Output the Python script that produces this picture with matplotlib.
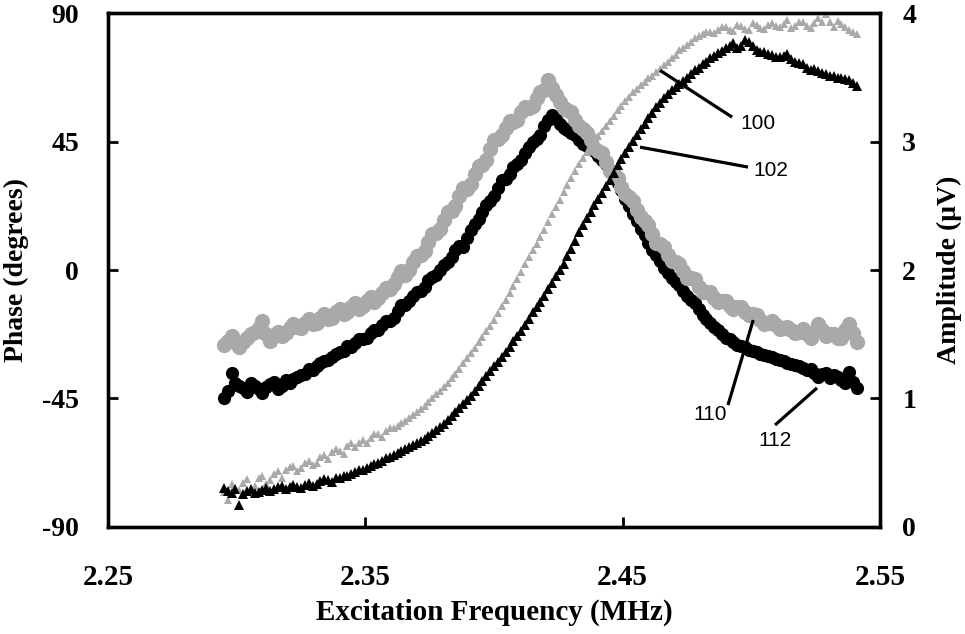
import matplotlib.pyplot as plt
import numpy as np

plt.rcParams['font.family'] = 'Liberation Serif'

# frequency sweep (MHz)
freq = np.linspace(2.295, 2.541, 165)

# amplitude (uV), right axis
amp_black = [1.00, 1.06, 1.20, 1.12, 1.10, 1.08, 1.05, 1.12, 1.10, 1.07, 1.04, 1.09, 1.11, 1.13, 1.07, 1.10, 1.14, 1.12, 1.15, 1.17,
             1.18, 1.19, 1.23, 1.22, 1.25, 1.28, 1.29, 1.30, 1.32, 1.35, 1.36, 1.37, 1.41, 1.40, 1.43, 1.46, 1.46, 1.47, 1.51, 1.53,
             1.53, 1.57, 1.60, 1.60, 1.63, 1.68, 1.73, 1.73, 1.76, 1.80, 1.83, 1.84, 1.87, 1.92, 1.95, 1.96, 2.00, 2.04, 2.06, 2.10,
             2.16, 2.19, 2.18, 2.25, 2.31, 2.36, 2.40, 2.45, 2.51, 2.54, 2.58, 2.64, 2.70, 2.71, 2.75, 2.80, 2.83, 2.86, 2.91, 2.96,
             3.00, 3.02, 3.05, 3.12, 3.17, 3.21, 3.18, 3.14, 3.11, 3.09, 3.07, 3.05, 3.01, 2.98, 2.97, 2.96, 2.93, 2.89, 2.86, 2.83,
             2.78, 2.73, 2.68, 2.62, 2.55, 2.50, 2.44, 2.38, 2.32, 2.27, 2.21, 2.16, 2.12, 2.07, 2.02, 1.98, 1.94, 1.91, 1.88, 1.84,
             1.80, 1.77, 1.74, 1.70, 1.65, 1.62, 1.59, 1.56, 1.53, 1.50, 1.47, 1.46, 1.44, 1.42, 1.41, 1.40, 1.38, 1.37, 1.36, 1.35,
             1.34, 1.33, 1.32, 1.31, 1.30, 1.29, 1.28, 1.27, 1.26, 1.25, 1.24, 1.22, 1.23, 1.20, 1.17, 1.19, 1.20, 1.16, 1.18, 1.17,
             1.14, 1.12, 1.21, 1.13, 1.08]
amp_gray = [1.42, 1.45, 1.49, 1.44, 1.40, 1.44, 1.47, 1.50, 1.52, 1.55, 1.60, 1.50, 1.45, 1.49, 1.52, 1.49, 1.51, 1.55, 1.58, 1.56,
            1.55, 1.59, 1.62, 1.58, 1.59, 1.63, 1.66, 1.62, 1.63, 1.67, 1.70, 1.66, 1.67, 1.71, 1.74, 1.70, 1.72, 1.76, 1.79, 1.75,
            1.78, 1.82, 1.86, 1.85, 1.89, 1.95, 1.99, 1.96, 2.00, 2.06, 2.11, 2.12, 2.15, 2.22, 2.28, 2.29, 2.32, 2.39, 2.45, 2.46,
            2.50, 2.58, 2.64, 2.63, 2.67, 2.75, 2.81, 2.82, 2.86, 2.94, 3.01, 3.02, 3.05, 3.11, 3.16, 3.15, 3.17, 3.23, 3.27, 3.26,
            3.28, 3.34, 3.39, 3.40, 3.48, 3.42, 3.36, 3.31, 3.26, 3.25, 3.23, 3.17, 3.12, 3.10, 3.07, 3.01, 2.95, 2.93, 2.91, 2.84,
            2.77, 2.75, 2.72, 2.65, 2.59, 2.57, 2.54, 2.47, 2.41, 2.38, 2.35, 2.28, 2.21, 2.20, 2.18, 2.12, 2.07, 2.06, 2.05, 1.99,
            1.94, 1.94, 1.93, 1.87, 1.83, 1.83, 1.83, 1.78, 1.75, 1.76, 1.76, 1.72, 1.70, 1.71, 1.71, 1.67, 1.65, 1.66, 1.65, 1.61,
            1.58, 1.59, 1.60, 1.57, 1.54, 1.55, 1.56, 1.53, 1.51, 1.52, 1.54, 1.50, 1.47, 1.52, 1.58, 1.53, 1.49, 1.50, 1.50, 1.47,
            1.47, 1.53, 1.58, 1.51, 1.44]

# phase (degrees), left axis
ph_black = [-76.3, -77.6, -78.1, -76.9, -82.3, -78.6, -77.4, -76.8, -78.1, -77.8, -77.0, -76.4, -77.4, -76.9, -76.0, -75.6, -76.7, -75.9, -75.3, -76.0,
            -76.3, -75.2, -74.6, -75.6, -74.9, -73.9, -73.2, -73.5, -74.2, -73.0, -72.8, -72.3, -72.1, -71.6, -70.7, -70.2, -70.0, -69.5, -68.6, -68.0,
            -67.6, -66.9, -65.8, -65.4, -64.8, -64.0, -63.4, -62.8, -62.0, -61.3, -60.6, -59.9, -59.2, -58.2, -57.1, -56.1, -55.0, -53.8, -52.5, -51.1,
            -49.7, -48.3, -46.9, -45.6, -44.1, -42.3, -40.6, -38.9, -37.1, -35.3, -33.6, -32.1, -30.5, -28.8, -27.0, -25.0, -23.1, -21.2, -19.3, -17.0,
            -14.7, -13.0, -11.2, -9.0, -6.7, -4.4, -2.1, 0.0, 2.1, 4.8, 7.4, 10.3, 13.3, 15.8, 18.2, 20.5, 22.8, 24.9, 27.0, 29.3,
            31.5, 34.2, 36.8, 38.9, 41.0, 43.1, 45.2, 47.3, 49.4, 51.3, 53.2, 55.2, 57.1, 58.6, 60.2, 61.6, 63.0, 64.0, 65.1, 66.2,
            67.2, 68.6, 70.0, 71.0, 72.1, 73.1, 74.2, 75.1, 76.0, 76.9, 77.7, 78.6, 79.5, 78.0, 78.4, 80.5, 79.8, 78.4, 77.0, 76.6,
            76.3, 75.8, 75.3, 74.8, 74.6, 75.0, 75.6, 73.9, 72.8, 72.5, 72.1, 71.0, 70.0, 70.6, 69.7, 69.2, 68.6, 68.2, 67.9, 67.5,
            67.2, 66.9, 66.5, 65.6, 64.4]
ph_gray = [-77.7, -80.5, -74.9, -76.3, -77.0, -74.6, -73.2, -76.6, -75.6, -73.0, -72.1, -75.0, -73.5, -71.6, -70.4, -72.8, -70.0, -68.9, -68.6, -70.4,
           -69.3, -67.5, -66.9, -68.4, -67.6, -65.6, -64.8, -66.2, -63.7, -62.6, -63.4, -64.5, -61.6, -60.6, -62.0, -60.7, -59.5, -60.6, -58.8, -57.6,
           -57.4, -58.4, -56.4, -55.4, -55.3, -54.6, -53.6, -52.8, -51.8, -50.9, -49.7, -48.7, -47.6, -46.2, -44.8, -43.6, -42.4, -41.1, -39.6, -38.0,
           -36.4, -34.5, -32.6, -30.9, -29.1, -27.2, -25.2, -23.3, -21.4, -19.5, -17.5, -15.0, -12.6, -10.4, -8.1, -5.7, -3.2, -0.6, 2.1, 4.6,
           7.0, 9.3, 11.6, 14.2, 16.8, 19.5, 22.1, 24.7, 27.3, 29.8, 32.2, 34.7, 37.1, 39.2, 41.3, 43.3, 45.2, 47.0, 48.7, 50.4,
           52.2, 54.1, 56.0, 57.6, 59.2, 60.8, 62.3, 63.5, 64.8, 66.0, 67.2, 68.2, 69.3, 70.6, 71.8, 73.0, 74.2, 75.5, 77.0, 78.0,
           78.8, 80.0, 81.2, 81.9, 82.6, 83.6, 83.3, 83.0, 84.0, 85.3, 85.1, 84.2, 83.7, 86.0, 85.4, 84.6, 84.0, 86.5, 85.8, 84.9,
           84.4, 86.0, 86.6, 85.5, 85.1, 86.4, 87.5, 84.9, 85.4, 87.1, 86.8, 85.6, 84.7, 86.6, 88.2, 87.0, 89.6, 86.8, 85.1, 87.4,
           86.2, 85.1, 84.0, 83.5, 82.6]

x_ticks = [2.25, 2.35, 2.45, 2.55]
x_labels = ['2.25', '2.35', '2.45', '2.55']
ph_ticks = [-90, -45, 0, 45, 90]
ph_labels = ['-90', '-45', '0', '45', '90']
amp_ticks = [0, 1, 2, 3, 4]
amp_labels = ['0', '1', '2', '3', '4']

# reference numerals: (text, line start, line end, text position) in (MHz, deg)
callouts = [
    ('100', (2.4645, 70.0), (2.4925, 53.6), (2.5025, 51.5)),
    ('102', (2.4567, 43.1), (2.4987, 36.1), (2.5075, 35.0)),
    ('110', (2.5007, -17.5), (2.4909, -47.3), (2.4839, -50.6)),
    ('112', (2.5255, -41.3), (2.5092, -54.3), (2.5092, -59.8)),
]

fig, ax = plt.subplots(figsize=(9.65, 6.34), dpi=100)
fig.subplots_adjust(left=0.112, right=0.912, top=0.979, bottom=0.169)
ax2 = ax.twinx()
# phase axes on top so the triangles sit over the circles
ax.set_zorder(ax2.get_zorder() + 1)
ax.patch.set_visible(False)

gray = '#a9a9a9'
ax2.plot(freq, amp_black, 'o', color='black', ms=9.5, mew=0)
ax2.plot(freq, amp_gray, 'o', color=gray, ms=11, mew=0)
ax.plot(freq, ph_gray, '^', color=gray, ms=6, mew=0)
ax.plot(freq, ph_black, '^', color='black', ms=7, mew=0)

for txt, p0, p1, pt in callouts:
    ax.plot([p0[0], p1[0]], [p0[1], p1[1]], color='black', lw=2.3,
            solid_capstyle='butt', zorder=5)
    ax.text(pt[0], pt[1], txt, fontsize=15, family='Liberation Sans',
            ha='center', va='center', zorder=6)

ax.set_xlim(2.25, 2.55)
ax.set_ylim(-90, 90)
ax2.set_ylim(0, 4)

ax.set_xticks(x_ticks)
ax.set_xticklabels(x_labels, fontsize=21, fontweight='bold')
ax.set_yticks(ph_ticks)
ax.set_yticklabels(ph_labels, fontsize=20, fontweight='bold')
ax2.set_yticks(amp_ticks)
ax2.set_yticklabels(amp_labels, fontsize=20, fontweight='bold')

ax.tick_params(axis='x', direction='in', length=7, width=2, pad=27, top=False)
ax.tick_params(axis='y', direction='in', length=7, width=2, pad=21, right=False)
ax2.tick_params(axis='y', direction='in', length=7, width=2, pad=16)

for a in (ax, ax2):
    for s in a.spines.values():
        s.set_linewidth(2.4)

ax.set_xlabel('Excitation Frequency (MHz)', fontsize=21, fontweight='bold')
ax.xaxis.set_label_coords(0.5, -0.14)
ax.set_ylabel('Phase (degrees)', fontsize=20, fontweight='bold')
ax.yaxis.set_label_coords(-0.102, 0.5)
ax2.set_ylabel('Amplitude (\u03bcV)', fontsize=20, fontweight='bold')
ax2.yaxis.set_label_coords(1.074, 0.5)

fig.savefig('out.png', dpi=100)
